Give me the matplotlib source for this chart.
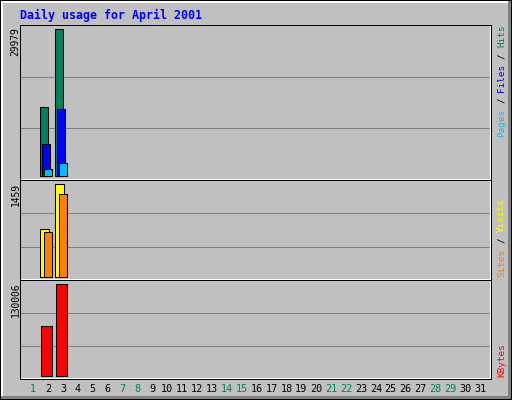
import matplotlib
matplotlib.use("Agg")
import matplotlib.pyplot as plt
from matplotlib.patches import Rectangle

# values, April 2001
days = list(range(1, 32))
day_labels = [str(d) for d in days]
weekend_days = [1, 7, 8, 14, 15, 21, 22, 28, 29]

hits = [0, 14090, 29979, 0, 0, 0, 0, 0, 0, 0, 0, 0, 0, 0, 0, 0,
        0, 0, 0, 0, 0, 0, 0, 0, 0, 0, 0, 0, 0, 0, 0]
files = [0, 6560, 13690, 0, 0, 0, 0, 0, 0, 0, 0, 0, 0, 0, 0, 0,
         0, 0, 0, 0, 0, 0, 0, 0, 0, 0, 0, 0, 0, 0, 0]
pages = [0, 1470, 2690, 0, 0, 0, 0, 0, 0, 0, 0, 0, 0, 0, 0, 0,
         0, 0, 0, 0, 0, 0, 0, 0, 0, 0, 0, 0, 0, 0, 0]
visits = [0, 748, 1459, 0, 0, 0, 0, 0, 0, 0, 0, 0, 0, 0, 0, 0,
          0, 0, 0, 0, 0, 0, 0, 0, 0, 0, 0, 0, 0, 0, 0]
sites = [0, 706, 1306, 0, 0, 0, 0, 0, 0, 0, 0, 0, 0, 0, 0, 0,
         0, 0, 0, 0, 0, 0, 0, 0, 0, 0, 0, 0, 0, 0, 0]
kbytes = [0, 70460, 130006, 0, 0, 0, 0, 0, 0, 0, 0, 0, 0, 0, 0, 0,
          0, 0, 0, 0, 0, 0, 0, 0, 0, 0, 0, 0, 0, 0, 0]

# webalizer colours
GREY = '#C0C0C0'
DKGREY = '#808080'
C_HITS = '#00805C'
C_FILES = '#0000FF'
C_PAGES = '#00C0FF'
C_VISITS = '#FFFF00'
C_SITES = '#FF8000'
C_KBYTES = '#FF0000'
MONO = 'DejaVu Sans Mono'

W, H = 512, 400
fig = plt.figure(figsize=(W / 100, H / 100), dpi=100, facecolor=GREY)


def box(x0, y0, x1, y1):
    return [x0 / W, 1 - y1 / H, (x1 - x0) / W, (y1 - y0) / H]


def panel_ylim(top, bot, base, peak, peak_val):
    s = (base - peak) / peak_val
    return (-(bot - base) / s, (base - top) / s)


# day 1 sits at pixel 33, one day = 14.9 px
day_px = 14.9
xlim = (1 - (33.2 - 20) / day_px, 1 + (491 - 33.2) / day_px)

ax1 = fig.add_axes(box(20, 25, 491, 180))
ax2 = fig.add_axes(box(20, 180, 491, 280))
ax3 = fig.add_axes(box(20, 280, 491, 379))

ax1.set_ylim(*panel_ylim(25, 180, 176.5, 29.3, max(hits)))
ax2.set_ylim(*panel_ylim(180, 280, 276.7, 184.3, max(visits)))
ax3.set_ylim(*panel_ylim(280, 379, 375.7, 284, max(kbytes)))


def draw_bars(ax, values, offset, width, color, z):
    xs = [d + offset for d, v in zip(days, values) if v > 0]
    hs = [v for v in values if v > 0]
    ax.bar(xs, hs, width=width, align='edge', color=color,
           edgecolor='black', linewidth=0.75, zorder=z)


for ax in (ax1, ax2, ax3):
    ax.set_facecolor(GREY)
    ax.set_xlim(*xlim)
    for sp in ax.spines.values():
        sp.set_visible(False)
    ax.set_yticks([])
    for f in (1 / 3, 2 / 3):
        ax.plot([0, 1], [f, f], transform=ax.transAxes, color=DKGREY,
                lw=0.72, antialiased=False, zorder=1)

draw_bars(ax1, hits, -0.54, 0.52, C_HITS, 3)
draw_bars(ax1, files, -0.39, 0.52, C_FILES, 4)
draw_bars(ax1, pages, -0.25, 0.52, C_PAGES, 5)
draw_bars(ax2, visits, -0.54, 0.60, C_VISITS, 3)
draw_bars(ax2, sites, -0.25, 0.52, C_SITES, 4)
draw_bars(ax3, kbytes, -0.48, 0.72, C_KBYTES, 3)

ax1.set_xticks([])
ax2.set_xticks([])
ax3.set_xticks(days)
ax3.set_xticklabels(day_labels, fontfamily=MONO, fontsize=7.3)
ax3.tick_params(axis='x', length=0, pad=3.5)
for d, lbl in zip(days, ax3.get_xticklabels()):
    lbl.set_color(C_HITS if d in weekend_days else 'black')

# overlay in pixel coordinates for the bevels, frame and labels
ov = fig.add_axes([0, 0, 1, 1], zorder=10)
ov.set_xlim(0, W)
ov.set_ylim(H, 0)
ov.axis('off')
ov.patch.set_alpha(0)


def px_rect(x, y, w, h, c):
    ov.add_patch(Rectangle((x, y), w, h, facecolor=c, edgecolor='none',
                           lw=0, antialiased=False))


# outer bevel
px_rect(1, 1, 510, 2, 'white')
px_rect(1, 1, 2, 398, 'white')
px_rect(508, 1, 3, 398, DKGREY)
px_rect(1, 396, 510, 3, DKGREY)
px_rect(0, 0, 512, 1, 'black')
px_rect(0, 399, 512, 1, 'black')
px_rect(0, 0, 1, 400, 'black')
px_rect(511, 0, 1, 400, 'black')

# graph frame
px_rect(20, 25, 472, 1, 'black')
px_rect(20, 25, 1, 355, 'black')
px_rect(490, 26, 1, 353, 'white')
px_rect(491, 25, 1, 355, 'black')
for y in (179, 279, 378):
    px_rect(21, y, 469, 1, 'white')
for y in (180, 280, 379):
    px_rect(20, y, 472, 1, 'black')

ov.text(19.5, 19.5, 'Daily usage for April 2001', color='#0000FF',
        fontsize=8.4, fontweight='bold', family=MONO, ha='left', va='baseline')

# peak values on the left
for val, top in ((max(hits), 27.5), (max(visits), 182.5), (max(kbytes), 282.5)):
    ov.text(15.5, top, str(val), rotation=90, rotation_mode='anchor',
            ha='right', va='center', fontsize=6.9, family=MONO, color='black')

# legends on the right, read bottom to top
fs_leg = 6.7
adv = 0.602 * fs_leg * 100 / 72
legends = [
    (137, [('Pages', 0, C_PAGES), ('/', 6, 'black'), ('Files', 8, C_FILES),
           ('/', 14, 'black'), ('Hits', 16, C_HITS)]),
    (277, [('Sites', 0, C_SITES), ('/', 6, 'black'), ('Visits', 8, C_VISITS)]),
    (377, [('KBytes', 0, C_KBYTES)]),
]
for bottom, parts in legends:
    for txt, idx, col in parts:
        ov.text(501.5, bottom - idx * adv, txt, rotation=90,
                rotation_mode='anchor', ha='left', va='center',
                fontsize=fs_leg, family=MONO, color=col)

fig.savefig('out.png', dpi=100, facecolor=GREY)
